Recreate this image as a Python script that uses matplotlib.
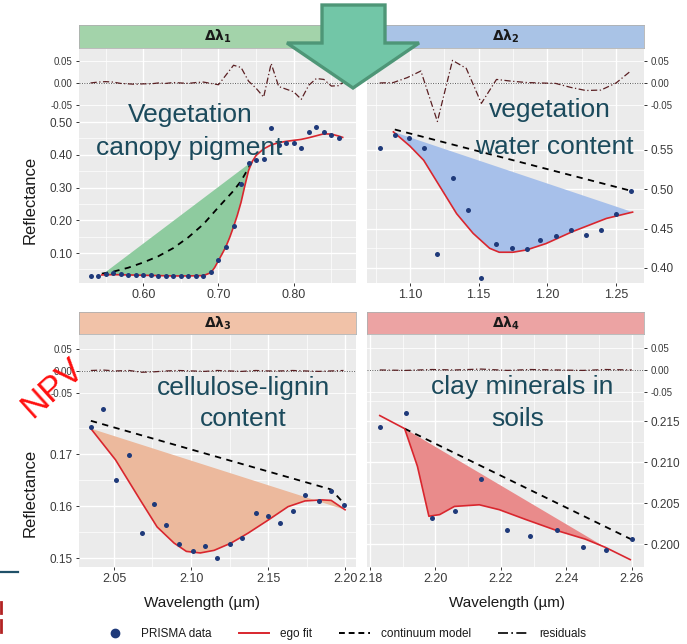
import matplotlib
matplotlib.use('Agg')
import matplotlib.pyplot as plt
from matplotlib.lines import Line2D
from matplotlib.patches import Polygon
from matplotlib.ticker import FixedLocator, FormatStrFormatter

# ------------------------------------------------------------------ data
# Panel 1 : vegetation canopy pigment
p1_pts_x = [0.53, 0.54, 0.55, 0.56, 0.57, 0.58, 0.59, 0.60, 0.61, 0.62, 0.63, 0.64,
            0.65, 0.66, 0.67, 0.68, 0.69, 0.70, 0.71, 0.72, 0.73, 0.74, 0.75, 0.76,
            0.77, 0.78, 0.79, 0.80, 0.81, 0.82, 0.83, 0.84, 0.85, 0.86]
p1_pts_y = [0.029, 0.031, 0.036, 0.038, 0.036, 0.034, 0.033, 0.032, 0.032, 0.031, 0.031, 0.030,
            0.030, 0.029, 0.029, 0.031, 0.043, 0.079, 0.119, 0.182, 0.311, 0.374, 0.384, 0.387,
            0.481, 0.430, 0.435, 0.435, 0.420, 0.470, 0.485, 0.470, 0.460, 0.450]
p1_fit_x = [0.545, 0.56, 0.58, 0.60, 0.62, 0.64, 0.66, 0.68, 0.69, 0.695, 0.70, 0.705, 0.71,
            0.715, 0.72, 0.725, 0.73, 0.735, 0.74, 0.745, 0.75, 0.76, 0.77, 0.78, 0.79, 0.80,
            0.81, 0.82, 0.83, 0.84, 0.85, 0.86, 0.865]
p1_fit_y = [0.033, 0.034, 0.033, 0.032, 0.031, 0.030, 0.030, 0.031, 0.040, 0.056, 0.077, 0.098,
            0.120, 0.148, 0.180, 0.215, 0.255, 0.305, 0.352, 0.380, 0.398, 0.418, 0.430, 0.437,
            0.441, 0.444, 0.447, 0.452, 0.458, 0.464, 0.463, 0.457, 0.453]
p1_cont_x = [0.545, 0.56, 0.58, 0.60, 0.62, 0.64, 0.66, 0.68, 0.70, 0.72, 0.73, 0.745]
p1_cont_y = [0.037, 0.043, 0.055, 0.071, 0.090, 0.115, 0.148, 0.188, 0.240, 0.290, 0.320, 0.380]
p1_res_x = [0.53, 0.54, 0.55, 0.56, 0.57, 0.58, 0.59, 0.60, 0.61, 0.62, 0.63, 0.64, 0.65,
            0.66, 0.67, 0.68, 0.69, 0.70, 0.71, 0.72, 0.73, 0.74, 0.75, 0.76, 0.77, 0.78,
            0.79, 0.80, 0.81, 0.82, 0.83, 0.84, 0.85, 0.86, 0.87]
p1_res_y = [0.000, 0.002, 0.003, 0.002, -0.001, -0.002, -0.003, -0.002, -0.002, 0.000, -0.001,
            0.001, 0.000, -0.001, 0.001, 0.002, -0.001, -0.004, 0.018, 0.040, 0.035, 0.004,
            -0.012, -0.032, 0.044, -0.008, -0.014, -0.020, -0.037, -0.005, 0.010, 0.008,
            -0.007, -0.006, 0.008]
p1_fill_span = [0.545, 0.745]

# Panel 2 : vegetation water content
p2_pts_x = [1.078, 1.089, 1.099, 1.110, 1.120, 1.131, 1.142, 1.152, 1.163, 1.174, 1.185,
            1.195, 1.206, 1.217, 1.228, 1.239, 1.250, 1.261]
p2_pts_y = [0.552, 0.569, 0.565, 0.552, 0.418, 0.515, 0.474, 0.387, 0.431, 0.425, 0.424,
            0.436, 0.441, 0.448, 0.442, 0.448, 0.469, 0.498]
p2_fit_x = [1.088, 1.100, 1.110, 1.122, 1.134, 1.146, 1.158, 1.165, 1.175, 1.185, 1.199,
            1.218, 1.243, 1.262]
p2_fit_y = [0.573, 0.555, 0.537, 0.503, 0.469, 0.444, 0.425, 0.420, 0.420, 0.423, 0.431,
            0.446, 0.463, 0.471]
p2_cont_x = [1.089, 1.261]
p2_cont_y = [0.576, 0.498]
p2_res_x = [1.078, 1.088, 1.098, 1.108, 1.120, 1.131, 1.141, 1.152, 1.163, 1.174, 1.185,
            1.195, 1.206, 1.217, 1.228, 1.239, 1.250, 1.261]
p2_res_y = [0.000, 0.001, 0.012, 0.027, -0.087, 0.051, 0.033, -0.046, 0.008, 0.004, 0.001,
            0.000, -0.001, -0.010, -0.017, -0.016, 0.000, 0.028]
p2_fill_span = [1.088, 1.262]

# Panel 3 : cellulose-lignin content
p3_pts_x = [2.035, 2.043, 2.051, 2.060, 2.068, 2.076, 2.084, 2.092, 2.101, 2.109, 2.117,
            2.125, 2.133, 2.142, 2.150, 2.158, 2.166, 2.174, 2.183, 2.191, 2.199]
p3_pts_y = [0.1752, 0.1786, 0.1650, 0.1698, 0.1548, 0.1605, 0.1563, 0.1527, 0.1513, 0.1524,
            0.1500, 0.1527, 0.1538, 0.1586, 0.1581, 0.1568, 0.1591, 0.1621, 0.1610, 0.1629,
            0.1602]
p3_fit_x = [2.035, 2.051, 2.067, 2.078, 2.089, 2.097, 2.106, 2.115, 2.126, 2.137, 2.150,
            2.163, 2.174, 2.185, 2.191, 2.200]
p3_fit_y = [0.1749, 0.1689, 0.1612, 0.1560, 0.1529, 0.1513, 0.1510, 0.1515, 0.1529, 0.1548,
            0.1573, 0.1599, 0.1610, 0.1612, 0.1611, 0.1593]
p3_cont_x = [2.035, 2.191, 2.199]
p3_cont_y = [0.1764, 0.1632, 0.1606]
p3_res_x = p3_pts_x
p3_res_y = [0.001, 0.002, 0.000, 0.001, -0.003, -0.002, 0.000, 0.001, 0.000, -0.001, 0.001,
            0.000, -0.001, 0.001, 0.000, 0.000, 0.001, 0.000, -0.001, 0.000, 0.001]
p3_fill_span = [2.035, 2.200]

# Panel 4 : clay minerals in soils
p4_pts_x = [2.183, 2.191, 2.199, 2.206, 2.214, 2.222, 2.229, 2.237, 2.245, 2.252, 2.260]
p4_pts_y = [0.2143, 0.2160, 0.2032, 0.2041, 0.2079, 0.2017, 0.2010, 0.2017, 0.1996, 0.1993,
            0.2006]
p4_fit_x = [2.183, 2.1906, 2.1945, 2.198, 2.2013, 2.2058, 2.2134, 2.2195, 2.2276, 2.2367,
            2.2458, 2.2519, 2.2595]
p4_fit_y = [0.2157, 0.2141, 0.2095, 0.2034, 0.2036, 0.2046, 0.2048, 0.2042, 0.2030, 0.2017,
            0.2006, 0.1996, 0.1981]
p4_cont_x = [2.1906, 2.2597]
p4_cont_y = [0.2141, 0.2006]
p4_res_x = p4_pts_x
p4_res_y = [0.000, -0.001, 0.001, 0.000, 0.002, -0.001, 0.001, 0.000, -0.001, 0.001, 0.000]
p4_fill_span = [2.1906, 2.2519]

strip_labels = [r'$\mathbf{\Delta\lambda_1}$', r'$\mathbf{\Delta\lambda_2}$',
                r'$\mathbf{\Delta\lambda_3}$', r'$\mathbf{\Delta\lambda_4}$']
legend_labels = ['PRISMA data', 'ego fit', 'continuum model', 'residuals']
res_ticks = [-0.05, 0.0, 0.05]

# ------------------------------------------------------------------ style
plt.rcParams['font.family'] = ['Liberation Sans', 'DejaVu Sans']
plt.rcParams['mathtext.fontset'] = 'dejavusans'

W, H = 687, 644
fig = plt.figure(figsize=(W / 100, H / 100), dpi=100)


def box(x0, y0, x1, y1):
    return [x0 / W, 1 - y1 / H, (x1 - x0) / W, (y1 - y0) / H]


BG = '#ebebeb'
TXT = '#3a3a3a'
PT = '#1f3a7a'
RED = '#d9262e'
RESC = '#5a1f22'
OVER = '#1b4a5c'

panels = [
    dict(pts=(p1_pts_x, p1_pts_y), fit=(p1_fit_x, p1_fit_y), cont=(p1_cont_x, p1_cont_y),
         res=(p1_res_x, p1_res_y), span=p1_fill_span,
         cols=(79, 356), rows=(25, 48, 113, 283), side='left',
         xlim=(0.5147, 0.8827), ylim=(0.0084, 0.5275), rlim=(-0.0678, 0.0767),
         xt=[0.60, 0.70, 0.80], xm=[0.55, 0.65, 0.75, 0.85],
         yt=[0.10, 0.20, 0.30, 0.40, 0.50], ym=[0.05, 0.15, 0.25, 0.35, 0.45],
         xf='%.2f', yf='%.2f', strip='#a3d3aa', fill='#8ecb9f'),
    dict(pts=(p2_pts_x, p2_pts_y), fit=(p2_fit_x, p2_fit_y), cont=(p2_cont_x, p2_cont_y),
         res=(p2_res_x, p2_res_y), span=p2_fill_span,
         cols=(367, 644), rows=(25, 48, 113, 283), side='right',
         xlim=(1.0688, 1.2703), ylim=(0.3809, 0.597), rlim=(-0.0678, 0.0767),
         xt=[1.10, 1.15, 1.20, 1.25], xm=[1.075, 1.125, 1.175, 1.225],
         yt=[0.40, 0.45, 0.50, 0.55], ym=[0.425, 0.475, 0.525, 0.575],
         xf='%.2f', yf='%.2f', strip='#a9c3e6', fill='#a7c0ea'),
    dict(pts=(p3_pts_x, p3_pts_y), fit=(p3_fit_x, p3_fit_y), cont=(p3_cont_x, p3_cont_y),
         res=(p3_res_x, p3_res_y), span=p3_fill_span,
         cols=(79, 356), rows=(312, 334, 400, 567), side='left',
         xlim=(2.0273, 2.2071), ylim=(0.1483, 0.1804), rlim=(-0.0656, 0.0811),
         xt=[2.05, 2.10, 2.15, 2.20], xm=[2.075, 2.125, 2.175],
         yt=[0.15, 0.16, 0.17], ym=[0.155, 0.165, 0.175],
         xf='%.2f', yf='%.2f', strip='#f1c2a8', fill='#ecb99d'),
    dict(pts=(p4_pts_x, p4_pts_y), fit=(p4_fit_x, p4_fit_y), cont=(p4_cont_x, p4_cont_y),
         res=(p4_res_x, p4_res_y), span=p4_fill_span,
         cols=(367, 644), rows=(312, 334, 400, 567), side='right',
         xlim=(2.1791, 2.2637), ylim=(0.1972, 0.2176), rlim=(-0.0678, 0.0789),
         xt=[2.18, 2.20, 2.22, 2.24, 2.26], xm=[2.19, 2.21, 2.23, 2.25],
         yt=[0.200, 0.205, 0.210, 0.215], ym=[0.2025, 0.2075, 0.2125, 0.2175],
         xf='%.2f', yf='%.3f', strip='#eca3a3', fill='#e98b8b'),
]


def style_axes(ax, side):
    ax.set_facecolor(BG)
    for s in ax.spines.values():
        s.set_visible(False)
    ax.tick_params(which='major', length=2.5, width=0.7, color='#333333', labelcolor=TXT,
                   labelsize=8.5, pad=2)
    ax.tick_params(which='minor', length=0)
    ax.grid(which='major', color='white', lw=1.0)
    ax.grid(which='minor', color='white', lw=0.5)
    ax.set_axisbelow(True)
    if side == 'right':
        ax.yaxis.tick_right()
        ax.tick_params(axis='y', which='both', left=False, right=True)


for i, p in enumerate(panels):
    x0, x1 = p['cols']
    y_strip, y_res, y_main, y_bot = p['rows']
    # main axes
    ax = fig.add_axes(box(x0, y_main, x1, y_bot))
    style_axes(ax, p['side'])
    ax.set_xlim(*p['xlim'])
    ax.set_ylim(*p['ylim'])
    ax.xaxis.set_major_locator(FixedLocator(p['xt']))
    ax.xaxis.set_minor_locator(FixedLocator(p['xm']))
    ax.yaxis.set_major_locator(FixedLocator(p['yt']))
    ax.yaxis.set_minor_locator(FixedLocator(p['ym']))
    ax.xaxis.set_major_formatter(FormatStrFormatter(p['xf']))
    ax.yaxis.set_major_formatter(FormatStrFormatter(p['yf']))
    ax.tick_params(axis='x', labelsize=9)
    fx, fy = p['fit']
    lo, hi = p['span']
    sx = [a for a in fx if lo - 1e-9 <= a <= hi + 1e-9]
    sy = [b for a, b in zip(fx, fy) if lo - 1e-9 <= a <= hi + 1e-9]
    ax.fill(sx, sy, color=p['fill'], lw=0, zorder=1)
    ax.plot(*p['cont'], color='black', lw=1.3, ls=(0, (3.5, 3)), zorder=2)
    ax.plot(fx, fy, color=RED, lw=1.2, zorder=3)
    ax.scatter(*p['pts'], s=13, color=PT, zorder=4, linewidths=0)

    # residual axes
    ra = fig.add_axes(box(x0, y_res + 1, x1, y_main))
    style_axes(ra, p['side'])
    ra.set_xlim(*p['xlim'])
    ra.set_ylim(*p['rlim'])
    ra.xaxis.set_major_locator(FixedLocator(p['xt']))
    ra.xaxis.set_minor_locator(FixedLocator(p['xm']))
    ra.yaxis.set_major_locator(FixedLocator(res_ticks))
    ra.yaxis.set_major_formatter(FormatStrFormatter('%.2f'))
    ra.tick_params(axis='x', which='both', bottom=False, labelbottom=False)
    ra.tick_params(axis='y', labelsize=7)
    ra.grid(axis='y', which='major', color='white', lw=0.6)
    ra.axhline(0, color='#555555', lw=0.7, ls=(0, (1, 1.5)), zorder=1)
    ra.plot(*p['res'], color=RESC, lw=0.9, ls=(0, (5, 2, 1, 2)), zorder=2, clip_on=False)

    # strip
    st = fig.add_axes(box(x0, y_strip, x1, y_res))
    st.set_facecolor(p['strip'])
    st.set_xticks([])
    st.set_yticks([])
    for s in st.spines.values():
        s.set_color('#b0b0b0')
        s.set_linewidth(0.6)
    st.text(0.5, 0.5, strip_labels[i], ha='center', va='center', fontsize=10,
            color='#1a1a1a', transform=st.transAxes)

# axis titles
for yc in (200, 493):
    fig.text(30 / W, 1 - yc / H, 'Reflectance', rotation=90, ha='center', va='center',
             fontsize=12, color='#1a1a1a')
for xc in (202, 507):
    fig.text(xc / W, 1 - 603 / H, 'Wavelength (\u00b5m)', ha='center', va='center',
             fontsize=11, color='#1a1a1a')

# legend
handles = [Line2D([], [], marker='o', ls='none', color=PT, ms=6),
           Line2D([], [], color=RED, lw=1.4),
           Line2D([], [], color='black', lw=1.4, ls=(0, (3, 2))),
           Line2D([], [], color='black', lw=1.2, ls=(0, (6, 2, 1, 2)))]
fig.legend(handles, legend_labels, loc='center', bbox_to_anchor=(343 / W, 1 - 634 / H),
           ncol=4, frameon=False, fontsize=8.5, handlelength=2.6, handletextpad=0.9,
           columnspacing=2.3, labelcolor='#1a1a1a')

# overlay annotations
over = dict(ha='center', va='baseline', fontsize=19, color=OVER,
            family=['Liberation Sans', 'DejaVu Sans'], zorder=20)
fig.text(190 / W, 1 - 122 / H, 'Vegetation', **over)
fig.text(189 / W, 1 - 155 / H, 'canopy pigment', **over)
fig.text(550 / W, 1 - 117 / H, 'vegetation', **over)
fig.text(554 / W, 1 - 154 / H, 'water content', **over)
fig.text(243 / W, 1 - 395 / H, 'cellulose-lignin', **over)
fig.text(243 / W, 1 - 426 / H, 'content', **over)
fig.text(522 / W, 1 - 394 / H, 'clay minerals in', **over)
fig.text(518 / W, 1 - 426 / H, 'soils', **over)
fig.text(52 / W, 1 - 388 / H, 'NPV', ha='center', va='center', rotation=42, fontsize=25,
         color='#ff1010', family=['Liberation Sans', 'DejaVu Sans'], zorder=20)

# big arrow
arrow_px = [(322, 5), (385, 5), (385, 43), (419, 43), (353, 88), (287, 43), (322, 43)]
arrow = Polygon([(x / W, 1 - y / H) for x, y in arrow_px], closed=True,
                transform=fig.transFigure, facecolor='#72c6a7', edgecolor='#4e9677',
                lw=2.4, zorder=30, joinstyle='miter')
fig.add_artist(arrow)

# slide decorations at left margin
fig.add_artist(Line2D([0, 18 / W], [1 - 572 / H, 1 - 572 / H], color='#1f5068', lw=1.6,
                      transform=fig.transFigure))
fig.add_artist(Line2D([1 / W, 1 / W], [1 - 602 / H, 1 - 613 / H], color='#b22222', lw=2,
                      transform=fig.transFigure))
fig.add_artist(Line2D([1 / W, 1 / W], [1 - 620 / H, 1 - 632 / H], color='#b22222', lw=2,
                      transform=fig.transFigure))

fig.savefig('out.png', dpi=100)
